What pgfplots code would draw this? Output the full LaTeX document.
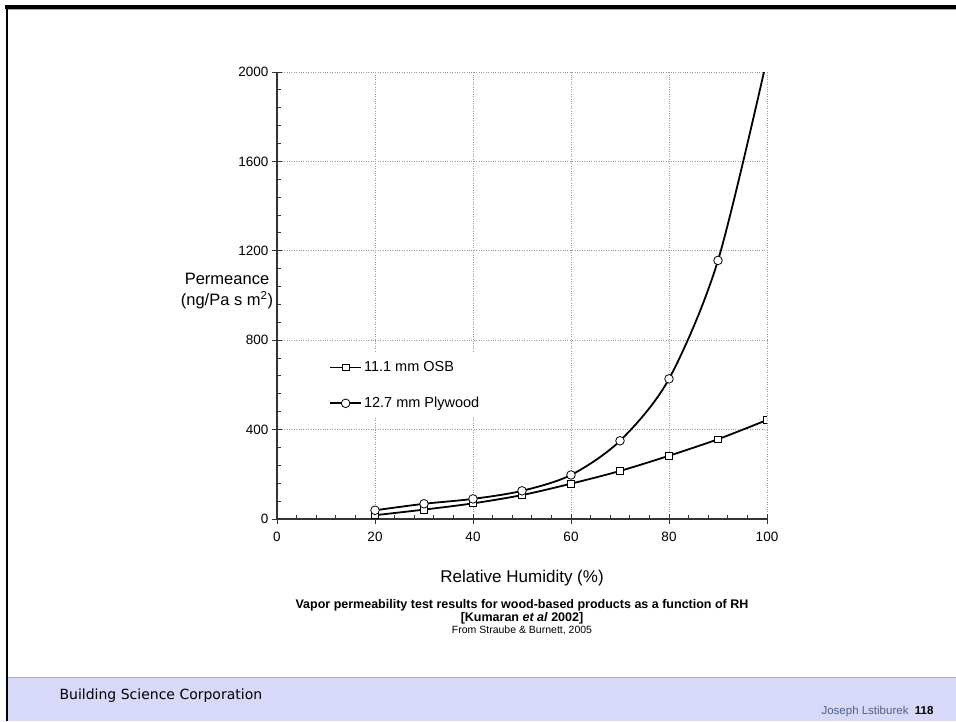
\documentclass[border=0pt]{standalone}
\usepackage{pgfplots}
\pgfplotsset{compat=1.18}
\usepackage{fontspec}
\setmainfont{Liberation Sans}
\newfontfamily\verdana{DejaVu Sans}
\definecolor{footerbg}{RGB}{216,216,248}
\definecolor{footerline}{RGB}{170,170,215}
\definecolor{authorcol}{RGB}{80,96,140}
\begin{document}
\begin{tikzpicture}[x=1pt,y=1pt]
\path[use as bounding box] (0,0) rectangle (956,721);
% slide frame
\fill[footerbg] (6,0) rectangle (956,44);
\draw[footerline, line width=1pt] (6,44) -- (956,44);
\draw[gray!70, line width=1pt] (7,711) -- (956,711);
\draw[black, line width=4pt] (5,713.5) -- (956,713.5);
\draw[black, line width=2.5pt] (7,715) -- (7,0);
\node[anchor=west, font=\verdana\fontsize{14}{16}\selectfont] at (56,25) {Building Science Corporation};
\node[anchor=east, font=\fontsize{11.5}{13}\selectfont] at (937,9) {\textcolor{authorcol}{Joseph Lstiburek}\ \ \textbf{118}};
% caption
\node[font=\bfseries\fontsize{12.5}{14}\selectfont] at (522,116) {Vapor permeability test results for wood-based products as a function of RH};
\node[font=\bfseries\fontsize{12.5}{14}\selectfont] at (522,103) {[Kumaran \textit{et al} 2002]};
\node[font=\fontsize{10.5}{12}\selectfont] at (522,91) {From Straube \& Burnett, 2005};
\begin{axis}[
  at={(277pt,202pt)}, anchor=south west,
  scale only axis, width=490pt, height=447pt,
  xmin=0, xmax=100, ymin=0, ymax=2000,
  enlargelimits=false,
  xtick={0,20,40,60,80,100},
  ytick={0,400,800,1200,1600,2000},
  minor x tick num=4, minor y tick num=4,
  axis lines=left,
  axis line style={-, line width=1.3pt, black!80},
  grid=major,
  grid style={dotted, gray!80, line width=0.7pt},
  tick align=center,
  major tick length=10pt, minor tick length=4pt,
  minor x tick style={yshift=2pt},
  minor y tick style={xshift=2pt},
  tick style={black!80, line width=1pt},
  ticklabel style={font=\fontsize{13.5}{16}\selectfont},
  xticklabel style={yshift=-5pt},
  /pgf/number format/assume math mode=true,
  /pgf/number format/set thousands separator={},
  scaled ticks=false,
  xlabel={Relative Humidity (\%)},
  every axis x label/.style={at={(axis description cs:0.5,0)}, anchor=center, yshift=-59pt, font=\fontsize{17}{20}\selectfont},
  ylabel={Permeance\\(ng/Pa s m\textsuperscript{2})},
  every axis y label/.style={at={(axis cs:0,1020)}, anchor=center, xshift=-50pt, align=center, font=\fontsize{16.5}{21}\selectfont},
  clip marker paths=true,
  legend cell align=left,
  legend style={at={(axis cs:9.8,745)}, anchor=north west, fill=white, draw=none,
    font=\fontsize{14.5}{16}\selectfont, row sep=20pt, inner xsep=4pt, inner ysep=7pt},
  legend image code/.code={\draw[mark repeat=2,mark phase=2] plot coordinates {(0pt,0pt)(15.5pt,0pt)(31pt,0pt)};},
]
\addplot[black, line width=1.8pt, smooth, mark=square*, mark size=3.3pt, mark options={fill=white, line width=0.8pt, solid}]
coordinates {(20,17)(30,42)(40,70)(50,107)(60,158)(70,215)(80,283)(90,357)(100,443)};
\addlegendentry{11.1 mm OSB}
\addplot[black, line width=1.8pt, smooth, mark=*, mark size=4.3pt, mark options={fill=white, line width=0.8pt, solid}]
coordinates {(20,39)(30,68)(40,90)(50,126)(60,197)(70,350)(80,627)(90,1157)(100,2060)};
\addlegendentry{12.7 mm Plywood}
\end{axis}
\end{tikzpicture}
\end{document}
